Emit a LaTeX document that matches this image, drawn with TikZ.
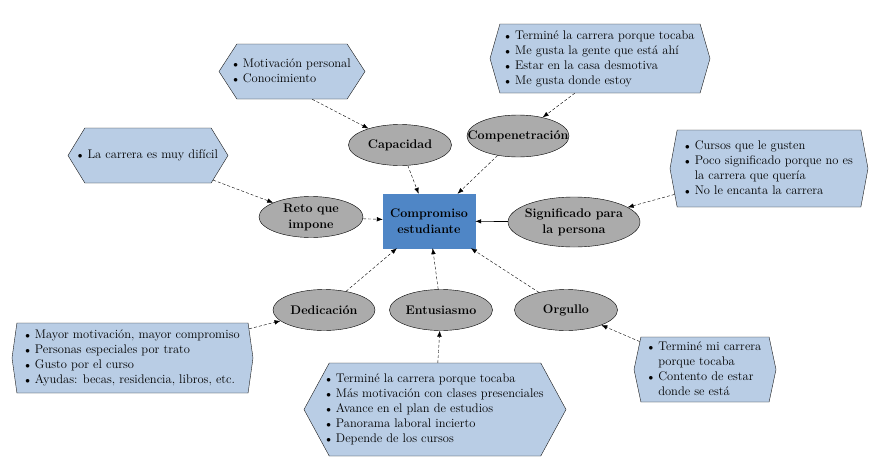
\documentclass[tikz,border=0pt]{standalone}
\usetikzlibrary{shapes.geometric,shapes.symbols,arrows.meta}
\definecolor{boxblue}{HTML}{B9CDE5}
\definecolor{ovalgray}{HTML}{ABABAB}
\definecolor{mainblue}{HTML}{4F86C6}
\newcommand{\bul}{$\scriptstyle\bullet$}
\tikzset{
  oval/.style={ellipse, draw, fill=ovalgray, inner xsep=-15pt, inner ysep=0pt, align=center, font=\fontsize{12.5}{16}\selectfont\bfseries},
  info/.style={signal, signal to=east and west, signal from=nowhere, draw=black!90, fill=boxblue, inner xsep=-12pt, inner ysep=0pt},
  link/.style={-{Latex[length=6pt,width=4.5pt]}, dash pattern=on 3pt off 2pt, thin},
}
\begin{document}
\begin{tikzpicture}[x=1pt,y=-1pt,font=\fontsize{12.5}{15}\selectfont]
\useasboundingbox (0,0) rectangle (878,466);

% centre
\node (center) [draw=mainblue, fill=mainblue, minimum width=92pt, minimum height=54pt, align=center, font=\fontsize{12.5}{16}\selectfont\bfseries] at (429,221) {Compromiso\\estudiante};

% factors
\node (cap) [oval, minimum width=103pt, minimum height=41pt] at (400,145) {Capacidad};
\node (comp) [oval, minimum width=102pt, minimum height=42pt] at (518,136) {Compenetración};
\node (reto) [oval, minimum width=104pt, minimum height=41pt] at (311,217) {Reto que\\impone};
\node (sig) [oval, minimum width=132pt, minimum height=50pt] at (574,222) {Significado para\\la persona};
\node (ded) [oval, minimum width=102pt, minimum height=41pt] at (324,310) {Dedicación};
\node (ent) [oval, minimum width=103pt, minimum height=41pt] at (441,310) {Entusiasmo};
\node (org) [oval, minimum width=103pt, minimum height=41pt] at (566,310) {Orgullo};

% details
\node (capinfo) [info, minimum width=146pt, minimum height=55pt, signal pointer angle=114] at (292,71.5) {
\begin{tabular}{@{}l@{\hspace{5pt}}l@{}}
  \bul & Motivación personal \\
  \bul & Conocimiento \\
\end{tabular}
};
\node (retoinfo) [info, minimum width=160pt, minimum height=55pt, signal pointer angle=117] at (148,155.5) {
\begin{tabular}{@{}l@{\hspace{5pt}}l@{}}
  \bul & La carrera es muy difícil \\
\end{tabular}
};
\node (compinfo) [info, minimum width=220pt, minimum height=69pt, signal pointer angle=148] at (600,58.5) {
\begin{tabular}{@{}l@{\hspace{5pt}}l@{}}
  \bul & Terminé la carrera porque tocaba \\
  \bul & Me gusta la gente que está ahí \\
  \bul & Estar en la casa desmotiva \\
  \bul & Me gusta donde estoy \\
\end{tabular}
};
\node (siginfo) [info, minimum width=198pt, minimum height=77pt, signal pointer angle=159] at (769,168.5) {
\begin{tabular}{@{}l@{\hspace{5pt}}l@{}}
  \bul & Cursos que le gusten \\
  \bul & Poco significado porque no es \\
       & la carrera que quería \\
  \bul & No le encanta la carrera \\
\end{tabular}
};
\node (dedinfo) [info, minimum width=241pt, minimum height=70pt, signal pointer angle=164] at (132.5,358) {
\begin{tabular}{@{}l@{\hspace{5pt}}l@{}}
  \bul & Mayor motivación, mayor compromiso \\
  \bul & Personas especiales por trato \\
  \bul & Gusto por el curso \\
  \bul & Ayudas: becas, residencia, libros, etc. \\
\end{tabular}
};
\node (entinfo) [info, minimum width=262pt, minimum height=93pt, signal pointer angle=123] at (435,409.5) {
\begin{tabular}{@{}l@{\hspace{5pt}}l@{}}
  \bul & Terminé la carrera porque tocaba \\
  \bul & Más motivación con clases presenciales \\
  \bul & Avance en el plan de estudios \\
  \bul & Panorama laboral incierto \\
  \bul & Depende de los cursos \\
\end{tabular}
};
\node (orginfo) [info, minimum width=142pt, minimum height=65pt, signal pointer angle=156] at (705,369.5) {
\begin{tabular}{@{}l@{\hspace{5pt}}l@{}}
  \bul & Terminé mi carrera \\
       & porque tocaba \\
  \bul & Contento de estar \\
       & donde se está \\
\end{tabular}
};

% links
\draw [link] (capinfo.-54) -- (cap);
\draw [link] (cap) -- (center);
\draw [link] (retoinfo) -- (reto);
\draw [link] (reto) -- (center);
\draw [link] (compinfo.-126) -- (comp);
\draw [link] (comp) -- (center);
\draw [link] (siginfo) -- (sig);
\draw [link, solid, semithick] (sig) -- (center);
\draw [link] (dedinfo) -- (ded);
\draw [link] (ded) -- (center);
\draw [link] (entinfo) -- (ent);
\draw [link] (ent) -- (center);
\draw [link] (orginfo) -- (org);
\draw [link] (org) -- (center);
\end{tikzpicture}
\end{document}
